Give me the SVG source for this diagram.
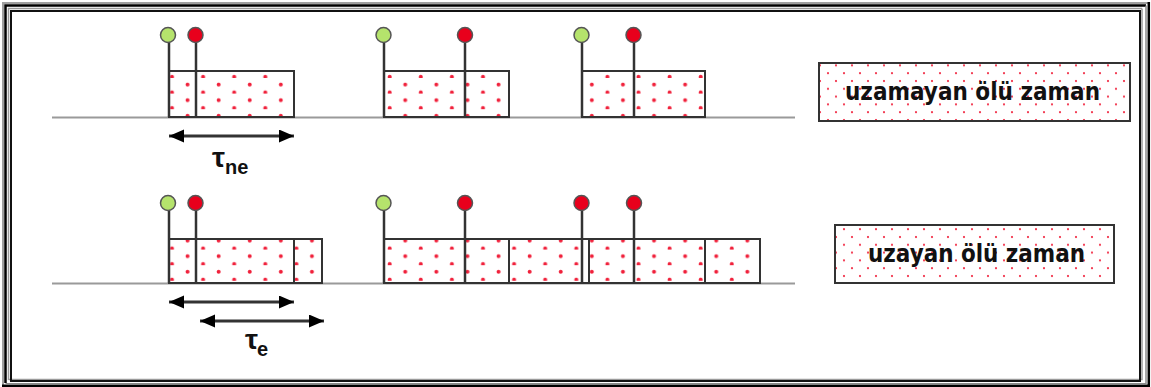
<svg xmlns="http://www.w3.org/2000/svg" width="1151" height="387" viewBox="0 0 1151 387">
  <style>
    .axis { stroke: #9a9a9a; stroke-width: 2; }
    .box { fill: url(#boxDots); stroke: #333; stroke-width: 2; }
    .div { stroke: #333; stroke-width: 2; }
    .pin { stroke: #333; stroke-width: 2.5; }
    .on { fill: #b5e36c; stroke: #555; stroke-width: 1.5; }
    .hit { fill: #e8001c; stroke: #555; stroke-width: 1.5; }
    .span { stroke: #333; stroke-width: 3; fill: none; marker-start: url(#head); marker-end: url(#head); }
    .legend { fill: url(#legendDots); stroke: #333; stroke-width: 2; }
    .ltext { font-family: "DejaVu Sans", "Liberation Sans", sans-serif; font-weight: bold; font-size: 25px; fill: #111; }
    .tau { font-family: "Liberation Sans", "DejaVu Sans", sans-serif; font-weight: bold; fill: #111; }
  </style>
  <defs>
    <pattern id="boxDots" patternUnits="userSpaceOnUse" x="9" y="0" width="31.1" height="15.6">
      <circle cx="7.5" cy="14.4" r="2" fill="#f0203a"/>
      <circle cx="23.05" cy="6.6" r="2" fill="#f0203a"/>
    </pattern>
    <pattern id="legendDots" patternUnits="userSpaceOnUse" x="0" y="0" width="16" height="15.6">
      <circle cx="4" cy="3" r="1.1" fill="#f0203a"/>
      <circle cx="12" cy="10.8" r="1.1" fill="#f0203a"/>
    </pattern>
    <marker id="head" markerUnits="userSpaceOnUse" markerWidth="16" markerHeight="14" refX="15" refY="6.5" orient="auto-start-reverse">
      <path d="M0,0 L15,6.5 L0,13 Z" fill="#000"/>
    </marker>
  </defs>

  <rect width="1151" height="387" fill="#fff"/>

  <!-- double bevelled frame -->
  <g id="frame" fill="none">
    <path d="M3,386 V3 H1148" stroke="#a0a0a0" stroke-width="2"/>
    <path d="M2,385.8 H1148.8 V2" stroke="#000" stroke-width="2.5"/>
    <path d="M5.5,383 V5.5 H1146" stroke="#000" stroke-width="2.5"/>
    <path d="M5.5,383.8 H1146 V5.5" stroke="#8a8a8a" stroke-width="1.5"/>
    <path d="M8.5,380 V8.5 H1142" stroke="#9a9a9a" stroke-width="1.5"/>
    <path d="M8.5,379.5 H1142 V8.5" stroke="#9a9a9a" stroke-width="1.5"/>
    <path d="M11,381 V11 H1140 V381 Z" stroke="#111" stroke-width="2"/>
  </g>

  <!-- non-extending dead time row -->
  <g id="row-non-extending">
    <line class="axis" x1="52" y1="117.5" x2="795" y2="117.5"/>
    <g id="ne-event-1">
      <rect class="box" x="169" y="71" width="125" height="46"/>
      <line class="pin" x1="169" y1="42" x2="169" y2="117"/>
      <line class="pin" x1="196" y1="42" x2="196" y2="117"/>
      <circle class="on" cx="168" cy="35" r="7.5"/>
      <circle class="hit" cx="195.5" cy="35" r="7.5"/>
    </g>
    <g id="ne-event-2">
      <rect class="box" x="384" y="71" width="125" height="46"/>
      <line class="pin" x1="384" y1="42" x2="384" y2="117"/>
      <line class="pin" x1="465" y1="42" x2="465" y2="117"/>
      <circle class="on" cx="383.5" cy="35" r="7.5"/>
      <circle class="hit" cx="465" cy="35" r="7.5"/>
    </g>
    <g id="ne-event-3">
      <rect class="box" x="582" y="71" width="123" height="46"/>
      <line class="pin" x1="582" y1="42" x2="582" y2="117"/>
      <line class="pin" x1="634" y1="42" x2="634" y2="117"/>
      <circle class="on" cx="581.5" cy="35" r="7.5"/>
      <circle class="hit" cx="633.5" cy="35" r="7.5"/>
    </g>
  </g>

  <!-- extending dead time row -->
  <g id="row-extending">
    <line class="axis" x1="52" y1="283.5" x2="795" y2="283.5"/>
    <g id="e-event-1">
      <rect class="box" x="169" y="239" width="153" height="44"/>
      <line class="div" x1="294" y1="239" x2="294" y2="283"/>
      <line class="pin" x1="169" y1="210" x2="169" y2="283"/>
      <line class="pin" x1="196" y1="210" x2="196" y2="283"/>
      <circle class="on" cx="168" cy="203" r="7.5"/>
      <circle class="hit" cx="195.5" cy="203" r="7.5"/>
    </g>
    <g id="e-event-2">
      <rect class="box" x="384" y="239" width="376" height="44"/>
      <line class="div" x1="509" y1="239" x2="509" y2="283"/>
      <line class="div" x1="589" y1="239" x2="589" y2="283"/>
      <line class="div" x1="705" y1="239" x2="705" y2="283"/>
      <line class="pin" x1="384" y1="210" x2="384" y2="283"/>
      <line class="pin" x1="465" y1="210" x2="465" y2="283"/>
      <line class="pin" x1="582" y1="210" x2="582" y2="283"/>
      <line class="pin" x1="634" y1="210" x2="634" y2="283"/>
      <circle class="on" cx="383.5" cy="203" r="7.5"/>
      <circle class="hit" cx="465" cy="203" r="7.5"/>
      <circle class="hit" cx="581.5" cy="203" r="7.5"/>
      <circle class="hit" cx="634" cy="203" r="7.5"/>
    </g>
  </g>

  <!-- duration arrows -->
  <g id="connectors">
    <line class="span" x1="169" y1="136" x2="294" y2="136"/>
    <line class="span" x1="169" y1="302" x2="294" y2="302"/>
    <line class="span" x1="200" y1="321" x2="324" y2="321"/>
  </g>

  <g id="label-tau-ne">
    <text class="tau" x="212" y="167" font-size="28" textLength="13" lengthAdjust="spacingAndGlyphs">τ</text>
    <text class="tau" x="225" y="174" font-size="20">ne</text>
  </g>
  <g id="label-tau-e">
    <text class="tau" x="245" y="349" font-size="28" textLength="13" lengthAdjust="spacingAndGlyphs">τ</text>
    <text class="tau" x="257" y="356" font-size="20">e</text>
  </g>

  <!-- legend -->
  <g id="legend-non-extending">
    <rect class="legend" x="819" y="63" width="311" height="58"/>
    <text class="ltext" x="845" y="100" textLength="255" lengthAdjust="spacingAndGlyphs">uzamayan ölü zaman</text>
  </g>
  <g id="legend-extending">
    <rect class="legend" x="835" y="225" width="279" height="58"/>
    <text class="ltext" x="868" y="262" textLength="217" lengthAdjust="spacingAndGlyphs">uzayan ölü zaman</text>
  </g>
</svg>
